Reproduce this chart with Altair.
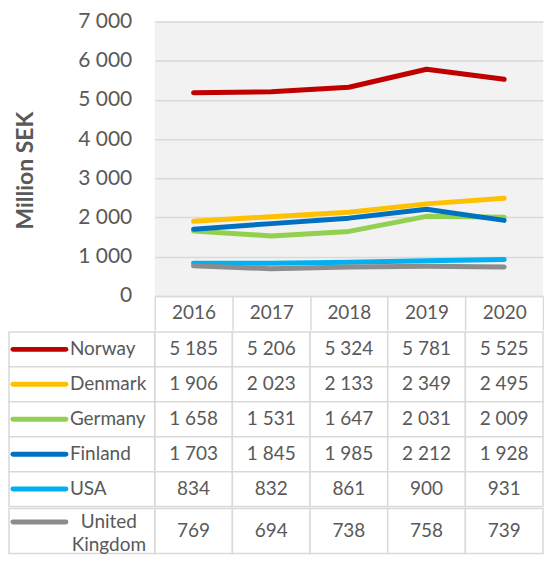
import altair as alt
import pandas as pd

years = ["2016", "2017", "2018", "2019", "2020"]
countries = ["Norway", "Denmark", "Germany", "Finland", "USA", "United Kingdom"]
colors = ["#c00000", "#ffc000", "#92d050", "#0070c0", "#00b0f0", "#8c8c8c"]
norway = [5185, 5206, 5324, 5781, 5525]
denmark = [1906, 2023, 2133, 2349, 2495]
germany = [1658, 1531, 1647, 2031, 2009]
finland = [1703, 1845, 1985, 2212, 1928]
usa = [834, 832, 861, 900, 931]
uk = [769, 694, 738, 758, 739]

series = [norway, denmark, germany, finland, usa, uk]
rows = []
for c, vals in zip(countries, series):
    for yr, v in zip(years, vals):
        rows.append({"country": c, "year": yr, "value": v,
                     "label": f"{v:,}".replace(",", " ")})
df = pd.DataFrame(rows)

FONT = "Lato"
TXT = "#595959"
GRID = "#d9d9d9"
W = 389
LEFT = -146

xscale = alt.Scale(type="band", domain=years, paddingInner=0, paddingOuter=0)
cscale = alt.Scale(domain=countries, range=colors)

top = alt.Chart(df).mark_line(strokeWidth=5, strokeCap="round", strokeJoin="round").encode(
    x=alt.X("year:O", scale=xscale, bandPosition=0.5, title=None, axis=alt.Axis(
        orient="bottom", labelFontSize=19, labelColor=TXT, labelFont=FONT, labelAngle=0,
        labelPadding=-26, tickBand="extent", tickSize=34, tickColor=GRID, tickWidth=1.5,
        domainColor=GRID, domainWidth=1.5, grid=False)),
    y=alt.Y("value:Q", scale=alt.Scale(domain=[0, 7000], nice=False), title="Million SEK",
            axis=alt.Axis(values=list(range(0, 7001, 1000)),
                          labelExpr="replace(format(datum.value, ','), ',', ' ')",
                          labelFontSize=21, labelColor=TXT, labelFont=FONT, labelPadding=23,
                          domain=False, ticks=False, grid=True, gridColor=GRID, gridWidth=1.5,
                          titleFont=FONT, titleFontSize=23, titleFontWeight="bold",
                          titleColor=TXT, titlePadding=40, titleY=149)),
    color=alt.Color("country:N", scale=cscale, legend=None),
).properties(width=W, height=275, view=alt.ViewBackground(fill="#f2f2f2", strokeWidth=0))


def table(names, height, multiline=False):
    tdf = df[df.country.isin(names)]
    ldf = pd.DataFrame({"country": names})
    yscale = alt.Scale(domain=names, paddingInner=0, paddingOuter=0)
    Y = alt.Y("country:N", scale=yscale, axis=None, title=None)
    X = alt.X("year:O", scale=xscale, axis=None, title=None)
    cells = alt.Chart(tdf).mark_rect(fill="white", stroke=GRID, strokeWidth=1.5).encode(x=X, y=Y)
    vals = alt.Chart(tdf).mark_text(font=FONT, fontSize=19, color=TXT).encode(
        x=alt.X("year:O", scale=xscale, axis=None, title=None, bandPosition=0.5),
        y=alt.Y("country:N", scale=yscale, axis=None, title=None, bandPosition=0.5),
        text="label:N")
    lcells = alt.Chart(ldf).mark_rect(fill="white", stroke=GRID, strokeWidth=1.5).encode(
        x=alt.value(LEFT), x2=alt.value(0), y=Y)
    sw = alt.Chart(ldf).mark_rule(strokeWidth=5, strokeCap="round").encode(
        x=alt.value(-142), x2=alt.value(-89),
        y=alt.Y("country:N", scale=yscale, axis=None, title=None,
                bandPosition=0.3 if multiline else 0.5),
        color=alt.Color("country:N", scale=cscale, legend=None))
    if multiline:
        lt = alt.Chart(ldf).mark_text(align="center", font=FONT, fontSize=19, color=TXT,
                                       lineBreak=" ", lineHeight=23).encode(
            x=alt.value(-46), y=alt.Y("country:N", scale=yscale, axis=None, title=None,
                                       bandPosition=0.3), text="country:N")
    else:
        lt = alt.Chart(ldf).mark_text(align="left", font=FONT, fontSize=19, color=TXT).encode(
            x=alt.value(-85), y=alt.Y("country:N", scale=yscale, axis=None, title=None,
                                       bandPosition=0.5), text="country:N")
    return alt.layer(cells, vals, lcells, sw, lt).properties(width=W, height=height)


t1 = table(countries[:5], 175)
t2 = table(countries[5:], 45, multiline=True)

chart = alt.vconcat(top, t1, t2, spacing=0).resolve_scale(
    x="independent", y="independent").properties(
    padding={"left": 0, "top": 2, "right": 0, "bottom": 0}
).configure_view(strokeWidth=0)

chart.save("out.html", embed_options={"renderer": "svg", "actions": False})
